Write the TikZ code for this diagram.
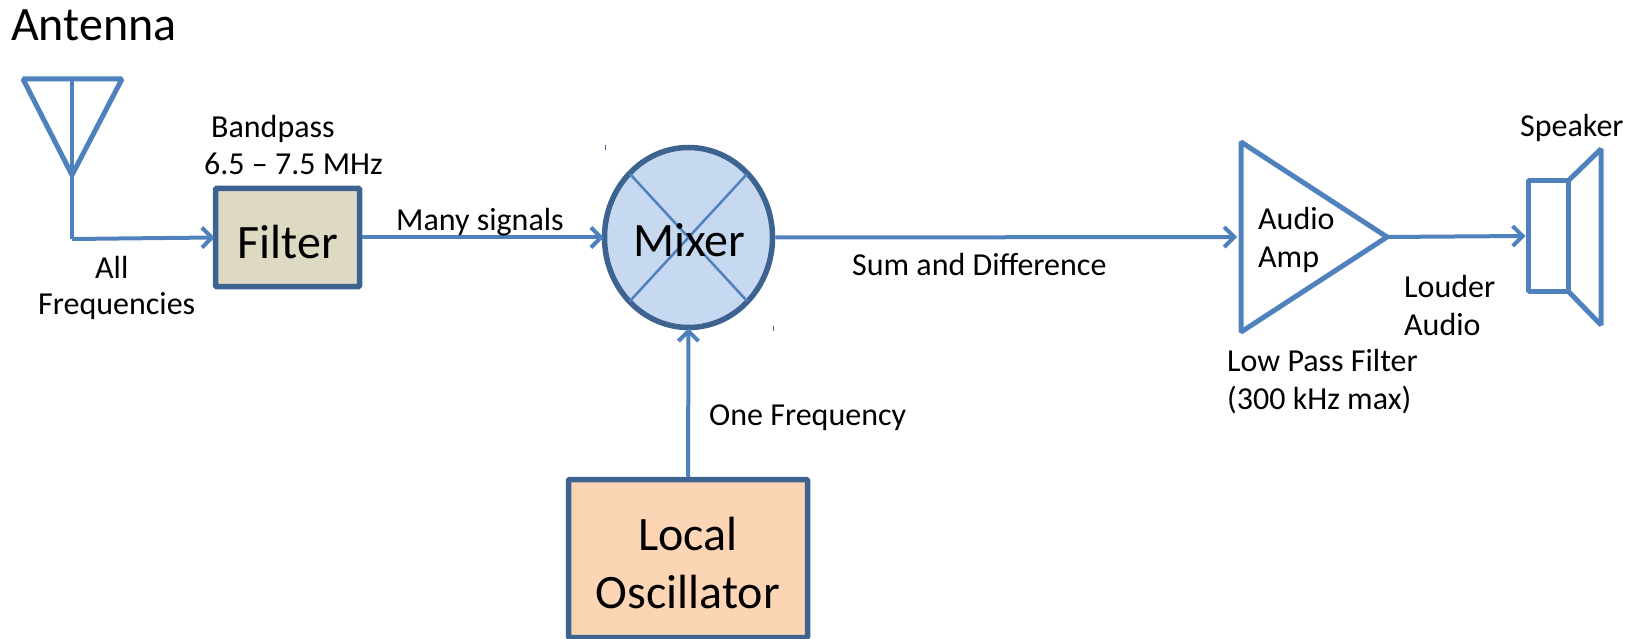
\documentclass[tikz,border=0pt]{standalone}
\usepackage{fontspec}
\setmainfont{Carlito}
\usetikzlibrary{arrows.meta,shapes.geometric}

\definecolor{linkblue}{HTML}{4F81BD}
\definecolor{edgeblue}{HTML}{3D6390}
\definecolor{filterfill}{HTML}{DDD9C3}
\definecolor{mixerfill}{HTML}{C6D9F1}
\definecolor{oscfill}{HTML}{FCD5B5}

\tikzset{
    signal/.style={draw=linkblue, line width=4pt, shorten >=-2pt, -{Straight Barb[length=10pt, width=20pt, line width=4pt]}},
    wire/.style={draw=linkblue, line width=5pt, line join=bevel},
    block/.style={draw=edgeblue, line width=5.5pt, rounded corners=1pt, inner sep=0pt},
    blocktext/.style={inner sep=0pt, align=center, font=\fontsize{48}{58}\selectfont},
    caption/.style={inner sep=0pt, align=left, font=\fontsize{32}{38}\selectfont},
}

\begin{document}
\begin{tikzpicture}[x=1pt, y=-1pt]
    \useasboundingbox (0,0) rectangle (1633,639);

    \node [inner sep=0pt, anchor=base west, font=\fontsize{48}{58}\selectfont] (antennatext) at (11,41) {Antenna};

    \begin{scope}[shift={(72,79)}]
        \draw [wire] (-49,0) -- (50,0) -- (0,96) -- cycle;
        \coordinate (mast) at (0,0);
        \coordinate (corner) at (0,160);
    \end{scope}

    \node [block, fill=filterfill, minimum width=144pt, minimum height=98pt] (filter) at (287.5,237.5) {};
    \node [block, ellipse, fill=mixerfill, minimum width=168pt, minimum height=180pt] (mixer) at (688.5,237.5) {};
    \node [block, fill=oscfill, minimum width=239pt, minimum height=158pt] (osc) at (688,558.5) {};

    \node [blocktext] (filtertext) at (288,242.5) {Filter};
    \node [blocktext] (osctext) at (688,563.5) {Local\\Oscillator};

    \draw [draw=linkblue, line width=2.5pt] (630,174) -- (747,301);
    \draw [draw=linkblue, line width=2.5pt] (747,174) -- (630,301);
    \node [blocktext] (mixertext) at (689.5,240) {Mixer};

    \draw [edgeblue, line width=1pt] (605,145) -- (605,150);
    \draw [edgeblue, line width=1pt] (773,326) -- (773,331);

    \draw [draw=linkblue, line width=4pt] (mast) -- (corner);
    \draw [signal] (corner) -- (filter.west);
    \draw [signal] (filter.east) -- (mixer.west);
    \draw [signal] (osc.north) -- (mixer.south);

    \begin{scope}[shift={(1241,237)}]
        \draw [wire] (0,-95) -- (146,0) -- (0,95) -- cycle;
        \coordinate (ampin) at (-6,0);
        \coordinate (ampout) at (145,0);
        \node [caption, anchor=west] (amptext) at (17,2.5) {Audio\\Amp};
    \end{scope}
    \draw [signal] (mixer.east) -- (ampin);

    \begin{scope}[shift={(1528,181)}]
        \draw [wire] (0,0) rectangle (40,110);
        \draw [wire] (40,0) -- (73,-32) -- (73,144) -- (40,110);
        \coordinate (speakerin) at (-4.5,55);
    \end{scope}
    \draw [signal] (ampout) -- (speakerin);

    \node [caption, anchor=base west] (speakertext) at (1520,137) {Speaker};
    \node [caption, anchor=base west] (bandpass) at (211,138) {Bandpass};
    \node [caption, anchor=base west] (passrange) at (204,175) {6.5 – 7.5 MHz};
    \node [caption, anchor=base west] (alltext) at (95,278) {All};
    \node [caption, anchor=base west] (freqtext) at (38,314) {Frequencies};
    \node [caption, anchor=base west] (many) at (396,230) {Many signals};
    \node [caption, anchor=base west] (sumdiff) at (852,276) {Sum and Difference};
    \node [caption, anchor=base west] (onefreq) at (709,425) {One Frequency};
    \node [caption, anchor=west] (louder) at (1404,306) {Louder\\Audio};
    \node [caption, anchor=west] (lowpass) at (1227,382) {Low Pass Filter\\(300 kHz max)};
\end{tikzpicture}
\end{document}
